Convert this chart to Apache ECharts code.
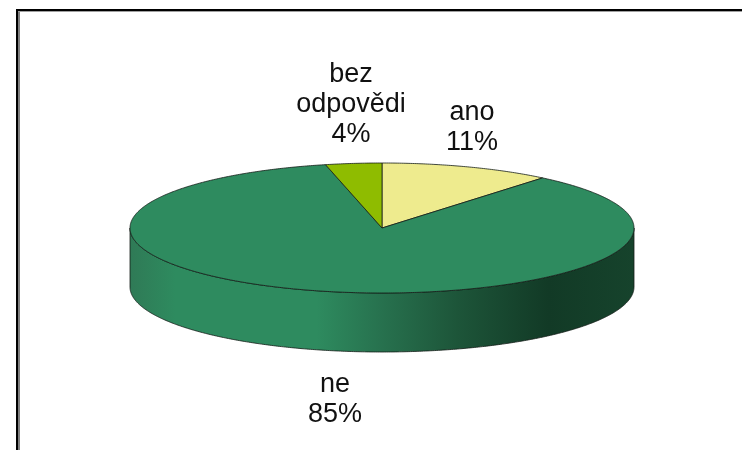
<!DOCTYPE html>
<html>
<head>
<meta charset="utf-8">
<style>html,body{margin:0;padding:0;background:#fff}#c{width:742px;height:450px}</style>
<script src="https://cdn.jsdelivr.net/npm/echarts@6/dist/echarts.min.js"></script>
</head>
<body>
<div id="c"></div>
<script>
// Data: clockwise from 12 o'clock (slice angles; labels round to 11/85/4)
var categories = ['ano', 'ne', 'bez\nodpovědi'];
var values = [11, 85.4, 3.6];

// Appearance and layout
var sliceColors = ['#eeeb8e', '#2e8b5f', '#8fbc00'];
var labelCenters = [[472, 128], [335, 400], [351, 105]];
var cx = 382, cy = 228, rx = 252, ry = 65, depth = 59;

var total = values.reduce(function (a, b) { return a + b; }, 0);
var starts = [];
values.reduce(function (a, v, i) { starts[i] = a; return a + v; }, 0);

function pt(deg, dy) {
  var r = deg * Math.PI / 180;
  return [cx + rx * Math.sin(r), cy - ry * Math.cos(r) + (dy || 0)];
}
function arc(a0, a1, dy) {
  var n = Math.max(2, Math.ceil(Math.abs(a1 - a0) / 0.5)), out = [];
  for (var i = 0; i <= n; i++) out.push(pt(a0 + (a1 - a0) * i / n, dy));
  return out;
}
var wallFill = {
  type: 'linear', x: cx - rx, y: 0, x2: cx + rx, y2: 0, global: true,
  colorStops: [
    { offset: 0, color: '#2f7a56' }, { offset: 0.09, color: '#2e8b5f' },
    { offset: 0.37, color: '#2e8b5f' }, { offset: 0.5, color: '#27714e' },
    { offset: 0.65, color: '#1d5539' }, { offset: 0.83, color: '#123a26' },
    { offset: 1, color: '#16432c' }
  ]
};

function renderSlice(params, api) {
  var i = params.dataIndex, v = api.value(0);
  var a0 = starts[i] / total * 360, a1 = (starts[i] + v) / total * 360;
  var children = [];
  var w0 = Math.max(a0, 90), w1 = Math.min(a1, 270);
  if (w1 > w0) {
    var top = arc(w0, w1, 0), bottom = arc(w1, w0, depth);
    children.push({
      type: 'polygon', shape: { points: top.concat(bottom) },
      style: { fill: wallFill, stroke: '#141d18', lineWidth: 0.8 }
    });
  }
  children.push({
    type: 'polygon', shape: { points: [[cx, cy]].concat(arc(a0, a1, 0)) },
    style: { fill: sliceColors[i], stroke: '#141d18', lineWidth: 0.8 }
  });
  children.push({
    type: 'text', z2: 10,
    style: {
      text: categories[i] + '\n' + Math.round(v / total * 100) + '%',
      x: labelCenters[i][0], y: labelCenters[i][1], align: 'center', verticalAlign: 'middle',
      font: '27px "Liberation Sans", Arial, sans-serif', lineHeight: 30, fill: '#111'
    }
  });
  return { type: 'group', children: children };
}

var chart = echarts.init(document.getElementById('c'), null, { renderer: 'canvas' });
chart.setOption({
  animation: false,
  backgroundColor: '#fff',
  graphic: [
    { type: 'rect', shape: { x: 16, y: 9, width: 726, height: 2 }, style: { fill: '#000' } },
    { type: 'rect', shape: { x: 16, y: 9, width: 2, height: 441 }, style: { fill: '#000' } },
    { type: 'rect', shape: { x: 18, y: 11, width: 2, height: 439 }, style: { fill: '#808080' } },
    { type: 'rect', shape: { x: 18, y: 11, width: 724, height: 1 }, style: { fill: '#a0a0a0' } }
  ],
  series: [{
    type: 'custom',
    coordinateSystem: 'none',
    silent: true,
    renderItem: renderSlice,
    data: values.map(function (v) { return [v]; })
  }]
});
</script>
</body>
</html>
